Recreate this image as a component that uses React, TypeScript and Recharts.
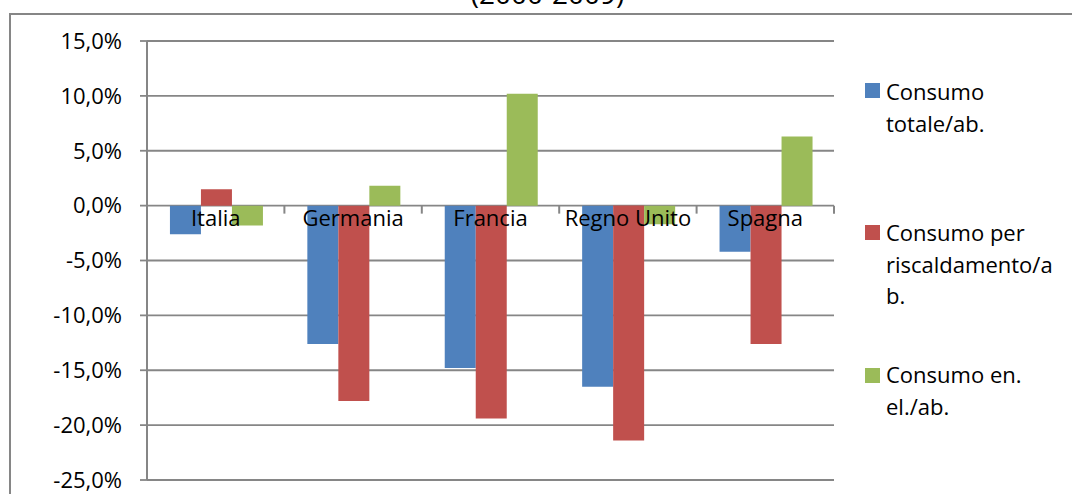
import React from 'react';
import { BarChart, Bar, XAxis, YAxis, CartesianGrid, Legend } from 'recharts';

const categories = ['Italia', 'Germania', 'Francia', 'Regno Unito', 'Spagna'];
const consumoTotale = [-2.6, -12.6, -14.8, -16.5, -4.2];
const consumoRiscaldamento = [1.5, -17.8, -19.4, -21.4, -12.6];
const consumoElettrico = [-1.8, 1.8, 10.2, -1.7, 6.3];
const yTicks = [-25, -20, -15, -10, -5, 0, 5, 10, 15];
const seriesKeys = ['totale', 'riscaldamento', 'elettrico'];
const seriesNames = ['Consumo totale/ab.', 'Consumo per riscaldamento/ab.', 'Consumo en. el./ab.'];
const seriesColors = ['#4F81BD', '#C0504D', '#9BBB59'];
const legendLines = [
  ['Consumo', 'totale/ab.'],
  ['Consumo per', 'riscaldamento/a', 'b.'],
  ['Consumo en.', 'el./ab.'],
];
const titleText = '(2000-2009)';

const data = categories.map((name, i) => ({
  name,
  totale: consumoTotale[i],
  riscaldamento: consumoRiscaldamento[i],
  elettrico: consumoElettrico[i],
}));

const W = 1072;
const H = 494;
const X_AXIS_H = 14;
const M = { top: 41, right: 238, bottom: 0, left: 0 };
const Y_AXIS_W = 147;
const Y_MIN = -25;
const Y_MAX = 15;
const PLOT_H = H - M.top - M.bottom - X_AXIS_H;
const PLOT_W = W - M.left - M.right - Y_AXIS_W;
const ZERO_Y = M.top + (Y_MAX / (Y_MAX - Y_MIN)) * PLOT_H;
const STEP = PLOT_W / categories.length;
const GRAY = '#868686';
const FONT = '"Open Sans", sans-serif';
const FS = 22;

const fmt = (v: number) => `${v.toFixed(1).replace('.', ',')}%`;

const CategoryTick = (props: any) => {
  const { x, payload } = props;
  return (
    <g>
      <line x1={x + STEP / 2} y1={ZERO_Y} x2={x + STEP / 2} y2={ZERO_Y + 8} stroke={GRAY} strokeWidth={2} />
      <text x={x} y={ZERO_Y + 20} textAnchor="middle" fill="#000" fontSize={FS} fontFamily={FONT}>
        {payload.value}
      </text>
    </g>
  );
};

const LegendContent = () => {
  const tops = [76, 217, 359];
  const sqTops = [83, 225, 368];
  return (
    <div style={{ position: 'relative', width: 210, height: 400 }}>
      {legendLines.map((lines, i) => (
        <React.Fragment key={i}>
          <div
            style={{
              position: 'absolute',
              left: 865 - 860,
              top: sqTops[i] - 70,
              width: 15,
              height: 15,
              background: seriesColors[i],
            }}
          />
          <div
            style={{
              position: 'absolute',
              left: 886 - 860,
              top: tops[i] - 70,
              fontFamily: FONT,
              fontSize: FS,
              lineHeight: '31.5px',
              color: '#000',
              whiteSpace: 'nowrap',
            }}
          >
            {lines.map((l, j) => (
              <div key={j}>{l}</div>
            ))}
          </div>
        </React.Fragment>
      ))}
    </div>
  );
};

export default function App() {
  return (
    <div style={{ position: 'absolute', left: 0, top: 0, width: W, height: H, background: '#fff', overflow: 'hidden' }}>
      <div
        style={{
          position: 'absolute',
          left: 9,
          top: 13,
          width: W + 20,
          height: H + 20,
          borderTop: `2px solid ${GRAY}`,
          borderLeft: `2px solid ${GRAY}`,
        }}
      />
      <div
        style={{
          position: 'absolute',
          left: 0,
          top: -22,
          width: 1095,
          textAlign: 'center',
          fontFamily: FONT,
          fontSize: 28,
          lineHeight: '30px',
          color: '#000',
        }}
      >
        {titleText}
      </div>
      <div style={{ position: 'absolute', left: 0, top: 0 }}>
        <BarChart width={W} height={H} data={data} margin={M} barCategoryGap="16.7%" barGap={0}>
          <CartesianGrid vertical={false} stroke={GRAY} strokeWidth={1.8} />
          <YAxis
            type="number"
            domain={[Y_MIN, Y_MAX]}
            ticks={yTicks}
            width={Y_AXIS_W}
            tickFormatter={fmt}
            tickSize={7}
            tickMargin={18}
            tickLine={{ stroke: GRAY, strokeWidth: 1.8 }}
            axisLine={{ stroke: GRAY, strokeWidth: 2 }}
            tick={{ fill: '#000', fontSize: FS, fontFamily: FONT }}
            interval={0}
            allowDataOverflow
          />
          {seriesKeys.map((k, i) => (
            <Bar key={k} dataKey={k} name={seriesNames[i]} fill={seriesColors[i]} isAnimationActive={false} />
          ))}
          <XAxis
            dataKey="name"
            height={X_AXIS_H}
            axisLine={false}
            tickLine={false}
            interval={0}
            tick={CategoryTick}
          />
          <Legend
            layout="vertical"
            align="center"
            verticalAlign="middle"
            width={210}
            height={400}
            wrapperStyle={{ left: 860, top: 70, width: 210, height: 400 }}
            content={<LegendContent />}
          />
        </BarChart>
      </div>
    </div>
  );
}
